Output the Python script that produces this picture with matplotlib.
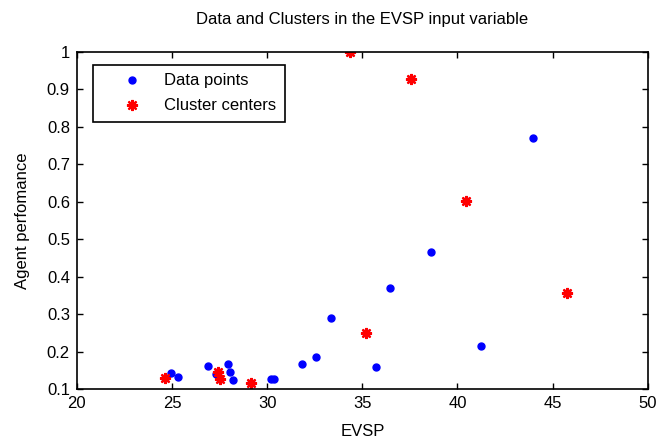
import numpy as np
import matplotlib
matplotlib.use('Agg')
import matplotlib.pyplot as plt

# Data points (EVSP vs agent performance)
data_x = [24.65, 24.95, 25.3, 26.9, 27.3, 27.42, 27.5, 27.93, 28.07, 28.2,
          29.16, 30.22, 30.35, 31.82, 32.58, 33.33, 34.35, 35.2, 35.7,
          36.45, 37.58, 38.6, 40.47, 41.24, 43.95, 45.75]
data_y = [0.13, 0.143, 0.132, 0.161, 0.14, 0.147, 0.127, 0.167, 0.146, 0.125,
          0.116, 0.128, 0.128, 0.167, 0.186, 0.29, 0.998, 0.251, 0.16,
          0.37, 0.927, 0.465, 0.602, 0.216, 0.77, 0.356]

# Cluster centers
center_x = [24.65, 27.42, 27.5, 29.16, 34.35, 35.2, 37.58, 40.47, 45.75]
center_y = [0.13, 0.147, 0.127, 0.116, 0.998, 0.251, 0.927, 0.602, 0.356]

plt.rcParams['font.family'] = ['Liberation Sans', 'DejaVu Sans']
plt.rcParams['font.size'] = 12

fig = plt.figure(figsize=(6.57, 4.45), dpi=100)
ax = fig.add_axes([0.117, 0.125, 0.869, 0.759])

ax.plot(data_x, data_y, 'o', color='blue', markersize=5, label='Data points')
# MATLAB-style asterisk marker
ax.plot(center_x, center_y, linestyle='none', marker=(8, 2, 0), color='red',
        markersize=8, markeredgewidth=1.6, label='Cluster centers')

ax.set_xlim(20, 50)
ax.set_ylim(0.1, 1)
ax.set_xticks(np.arange(20, 51, 5))
ax.set_yticks(np.round(np.arange(0.1, 1.01, 0.1), 1))
ax.set_yticklabels(['0.1', '0.2', '0.3', '0.4', '0.5', '0.6', '0.7', '0.8', '0.9', '1'])
ax.tick_params(direction='in', top=True, right=True, length=4, width=1,
               labelsize=12, pad=5)
for s in ax.spines.values():
    s.set_linewidth(1.2)

ax.set_xlabel('EVSP', fontsize=12, labelpad=9)
ax.set_ylabel('Agent perfomance', fontsize=12, labelpad=12)
ax.set_title('Data and Clusters in the EVSP input variable', fontsize=12, pad=20)

leg = ax.legend(loc='upper left', bbox_to_anchor=(0.0287, 0.960), fancybox=False,
                edgecolor='black', framealpha=1, borderpad=0.5, handletextpad=0.05,
                handlelength=3.7, labelspacing=0.6, borderaxespad=0)
leg.get_frame().set_linewidth(1.2)

fig.savefig('out.png', dpi=100)
